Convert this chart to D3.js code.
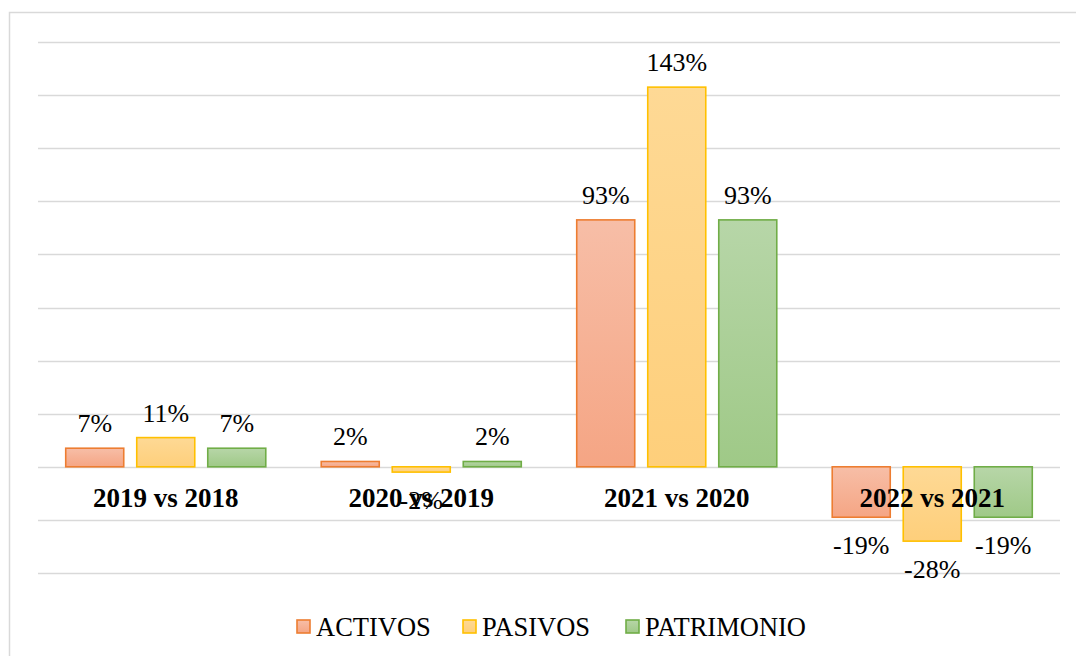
<!DOCTYPE html>
<html>
<head>
<meta charset="utf-8">
<script src="https://cdn.jsdelivr.net/npm/d3@7"></script>
<style>
  html, body { margin: 0; padding: 0; background: #fff; }
  svg { display: block; }
</style>
</head>
<body>
<svg id="chart" width="1076" height="656"></svg>
<script>
const categories = ["2019 vs 2018", "2020 vs 2019", "2021 vs 2020", "2022 vs 2021"];
const seriesNames = ["ACTIVOS", "PASIVOS", "PATRIMONIO"];
const activos = [7, 2, 93, -19];
const pasivos = [11, -2, 143, -28];
const patrimonio = [7, 2, 93, -19];
const yTicks = [-40, -20, 0, 20, 40, 60, 80, 100, 120, 140, 160];

const seriesValues = [activos, pasivos, patrimonio];
const colors = {
  ACTIVOS: { top: "#f7bea7", bottom: "#f5a584", stroke: "#ed7d31" },
  PASIVOS: { top: "#fed995", bottom: "#fecf7b", stroke: "#ffc000" },
  PATRIMONIO: { top: "#b7d6a8", bottom: "#9fc987", stroke: "#70ad47" }
};

const svg = d3.select("#chart");
const plot = { left: 38, right: 1060, top: 42, bottom: 573 };
const serif = "'Liberation Serif', 'Times New Roman', serif";

// outer border
svg.append("rect")
  .attr("x", 9.5).attr("y", 12.5)
  .attr("width", 1080).attr("height", 700)
  .attr("fill", "#fff")
  .attr("stroke", "#d9d9d9").attr("stroke-width", 1.5);

const defs = svg.append("defs");
seriesNames.forEach((s, i) => {
  const g = defs.append("linearGradient")
    .attr("id", "grad" + i)
    .attr("x1", 0).attr("y1", 0).attr("x2", 0).attr("y2", 1);
  g.append("stop").attr("offset", "0%").attr("stop-color", colors[s].top);
  g.append("stop").attr("offset", "100%").attr("stop-color", colors[s].bottom);
});

const y = d3.scaleLinear().domain([-40, 160]).range([plot.bottom, plot.top]);
const x0 = d3.scaleBand().domain(categories)
  .range([plot.left, plot.right])
  .paddingInner(0.217).paddingOuter(0.1085);
const x1 = d3.scaleBand().domain(seriesNames)
  .range([0, x0.bandwidth()])
  .paddingInner(0.183).paddingOuter(0);

// gridlines
svg.append("g").selectAll("line")
  .data(yTicks).join("line")
  .attr("x1", plot.left).attr("x2", plot.right)
  .attr("y1", d => Math.round(y(d)) + 0.5).attr("y2", d => Math.round(y(d)) + 0.5)
  .attr("stroke", "#d9d9d9").attr("stroke-width", 1.3);

const data = [];
categories.forEach((c, ci) => {
  seriesNames.forEach((s, si) => {
    data.push({ cat: c, series: s, si: si, value: seriesValues[si][ci] });
  });
});

// bars
svg.append("g").selectAll("rect")
  .data(data).join("rect")
  .attr("x", d => x0(d.cat) + x1(d.series))
  .attr("width", x1.bandwidth())
  .attr("y", d => y(Math.max(0, d.value)))
  .attr("height", d => Math.abs(y(d.value) - y(0)))
  .attr("fill", d => "url(#grad" + d.si + ")")
  .attr("stroke", d => colors[d.series].stroke)
  .attr("stroke-width", 1.6);

// category labels
svg.append("g").selectAll("text")
  .data(categories).join("text")
  .attr("x", d => x0(d) + x0.bandwidth() / 2)
  .attr("y", 507)
  .attr("text-anchor", "middle")
  .attr("font-family", serif)
  .attr("font-weight", "bold")
  .attr("font-size", 27)
  .attr("fill", "#000")
  .text(d => d);

// data labels
svg.append("g").selectAll("text")
  .data(data).join("text")
  .attr("x", d => x0(d.cat) + x1(d.series) + x1.bandwidth() / 2)
  .attr("y", d => d.value >= 0 ? y(d.value) - 16 : y(d.value) + 37)
  .attr("text-anchor", "middle")
  .attr("font-family", serif)
  .attr("font-size", 26)
  .attr("fill", "#000")
  .text(d => d.value + "%");

// legend
const legendX = [296, 462, 625];
const lg = svg.append("g").selectAll("g")
  .data(seriesNames).join("g")
  .attr("transform", (d, i) => `translate(${legendX[i]},0)`);
lg.append("rect")
  .attr("x", 1).attr("y", 620)
  .attr("width", 13).attr("height", 13)
  .attr("fill", (d, i) => "url(#grad" + i + ")")
  .attr("stroke", d => colors[d].stroke)
  .attr("stroke-width", 1.6);
lg.append("text")
  .attr("x", 20).attr("y", 636)
  .attr("font-family", serif)
  .attr("font-size", 26.5)
  .attr("fill", "#000")
  .text(d => d);
</script>
</body>
</html>
